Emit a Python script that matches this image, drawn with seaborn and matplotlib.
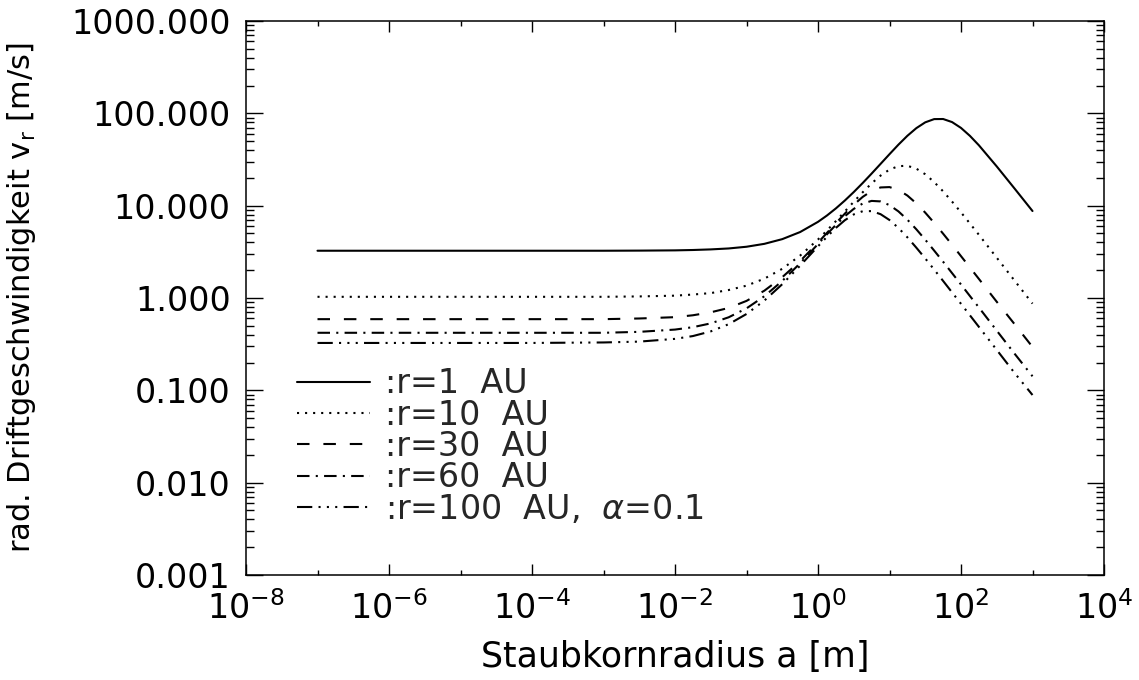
import numpy as np
import pandas as pd
import matplotlib
matplotlib.use("Agg")
import matplotlib.pyplot as plt
import matplotlib.ticker as mticker
import seaborn as sns

# grain radius grid, log10(a / m)
radius_exp = [-7, -6, -5, -4, -3, -2.5, -2, -1.75, -1.5, -1.25, -1,
              -0.75, -0.5, -0.25, 0, 0.125, 0.25, 0.375, 0.5, 0.625, 0.75,
              0.875, 1, 1.125, 1.25, 1.375, 1.5, 1.625, 1.75, 1.875, 2,
              2.125, 2.25, 2.5, 2.75, 3]

# radial drift velocity |v_r| in m/s
v_r1 = [3.25, 3.25, 3.25, 3.25, 3.25, 3.26, 3.28, 3.31, 3.36, 3.44, 3.59,
        3.86, 4.34, 5.18, 6.68, 7.82, 9.34, 11.36, 14.04, 17.59, 22.26,
        28.34, 36.11, 45.8, 57.1, 69.1, 79.9, 86.6, 86.8, 80.4, 69.5,
        57.0, 45.1, 26.6, 15.3, 8.75]
v_r10 = [1.03, 1.03, 1.03, 1.03, 1.03, 1.04, 1.06, 1.09, 1.13, 1.22, 1.36,
         1.62, 2.07, 2.88, 4.30, 5.38, 6.80, 8.65, 11.01, 13.96, 17.43,
         21.17, 24.59, 26.80, 27.03, 25.18, 21.88, 18.0, 14.29, 11.07, 8.46,
         6.41, 4.84, 2.73, 1.54, 0.87]
v_r30 = [0.59, 0.59, 0.59, 0.59, 0.59, 0.60, 0.62, 0.65, 0.70, 0.78, 0.93,
         1.20, 1.68, 2.51, 3.98, 5.07, 6.46, 8.19, 10.24, 12.44, 14.44,
         15.75, 15.89, 14.81, 12.87, 10.59, 8.40, 6.51, 4.97, 3.77, 2.84,
         2.14, 1.61, 0.91, 0.52, 0.295]
v_r60 = [0.42, 0.42, 0.42, 0.42, 0.42, 0.43, 0.455, 0.483, 0.531, 0.618, 0.772,
         1.045, 1.53, 2.38, 3.84, 4.90, 6.19, 7.68, 9.23, 10.55, 11.26,
         11.12, 10.14, 8.67, 7.05, 5.55, 4.28, 3.26, 2.47, 1.86, 1.40,
         1.05, 0.79, 0.443, 0.249, 0.142]
v_r100 = [0.326, 0.326, 0.326, 0.326, 0.33, 0.337, 0.361, 0.387, 0.435, 0.520, 0.671,
          0.938, 1.41, 2.24, 3.63, 4.60, 5.74, 6.95, 8.04, 8.71, 8.73,
          8.09, 6.99, 5.74, 4.54, 3.51, 2.68, 2.03, 1.53, 1.15, 0.865,
          0.649, 0.487, 0.274, 0.154, 0.089]

labels = [":r=1  AU", ":r=10  AU", ":r=30  AU", ":r=60  AU",
          r":r=100  AU,  $\alpha$=0.1"]
series = [v_r1, v_r10, v_r30, v_r60, v_r100]

x_major = [1e-8, 1e-6, 1e-4, 1e-2, 1e0, 1e2, 1e4]
x_minor = [1e-7, 1e-5, 1e-3, 1e-1, 1e1, 1e3]
y_ticks = [0.001, 0.01, 0.1, 1, 10, 100, 1000]

sns.set_theme(style="ticks")
plt.rcParams["font.family"] = ["DejaVu Sans"]
plt.rcParams["mathtext.fontset"] = "dejavusans"
plt.rcParams["lines.scale_dashes"] = False
plt.rcParams["axes.unicode_minus"] = True

FS = 24

styles = [
    "-",
    (0, (1.5, 4.3)),
    (0, (9, 10)),
    (0, (9, 4.5, 1.5, 4.5)),
    (0, (11, 4.5, 1.5, 4.5, 1.5, 4.5, 1.5, 4.5)),
]

fig = plt.figure(figsize=(11.39, 6.80), dpi=100)
ax = fig.add_axes([246 / 1139, 1 - 575 / 680, (1104 - 246) / 1139, (575 - 21) / 680])

radius = 10.0 ** np.array(radius_exp)
for vals, lab, ls in zip(series, labels, styles):
    df = pd.DataFrame({"a": radius, "v": vals})
    sns.lineplot(data=df, x="a", y="v", ax=ax, color="black", linewidth=1.5,
                 linestyle=ls, label=lab, estimator=None, sort=False)

ax.set_xscale("log")
ax.set_yscale("log")
ax.set_xlim(1e-8, 1e4)
ax.set_ylim(1e-3, 1e3)

ax.xaxis.set_major_locator(mticker.FixedLocator(x_major))
ax.xaxis.set_minor_locator(mticker.FixedLocator(x_minor))
ax.xaxis.set_major_formatter(mticker.LogFormatterMathtext())
ax.xaxis.set_minor_formatter(mticker.NullFormatter())
ax.yaxis.set_major_locator(mticker.FixedLocator(y_ticks))
ax.yaxis.set_minor_locator(mticker.LogLocator(base=10, subs=np.arange(2, 10), numticks=20))
ax.yaxis.set_major_formatter(mticker.FuncFormatter(lambda v, p: f"{v:.3f}"))
ax.yaxis.set_minor_formatter(mticker.NullFormatter())

ax.tick_params(axis="both", which="both", direction="in", top=True, right=True,
               color="black", width=1.0, labelsize=FS, labelcolor="black")
ax.tick_params(axis="x", which="major", length=8, pad=12)
ax.tick_params(axis="x", which="minor", length=3.6)
ax.tick_params(axis="y", which="major", length=12, pad=11)
ax.tick_params(axis="y", which="minor", length=6)
for sp in ax.spines.values():
    sp.set_color("black")
    sp.set_linewidth(1.1)

ax.set_xlabel("Staubkornradius a [m]", fontsize=25, color="black", labelpad=10)
ax.set_ylabel(r"rad. Driftgeschwindigkeit v$_\mathregular{r}$ [m/s]",
              fontsize=22, color="black", labelpad=24)

ax.legend(loc="upper left", bbox_to_anchor=(0.059, 0.375), frameon=False,
          fontsize=FS, handlelength=2.2, handletextpad=0.45,
          labelspacing=-0.05, borderpad=0, borderaxespad=0)

fig.savefig("out.png", dpi=100, facecolor="white")
